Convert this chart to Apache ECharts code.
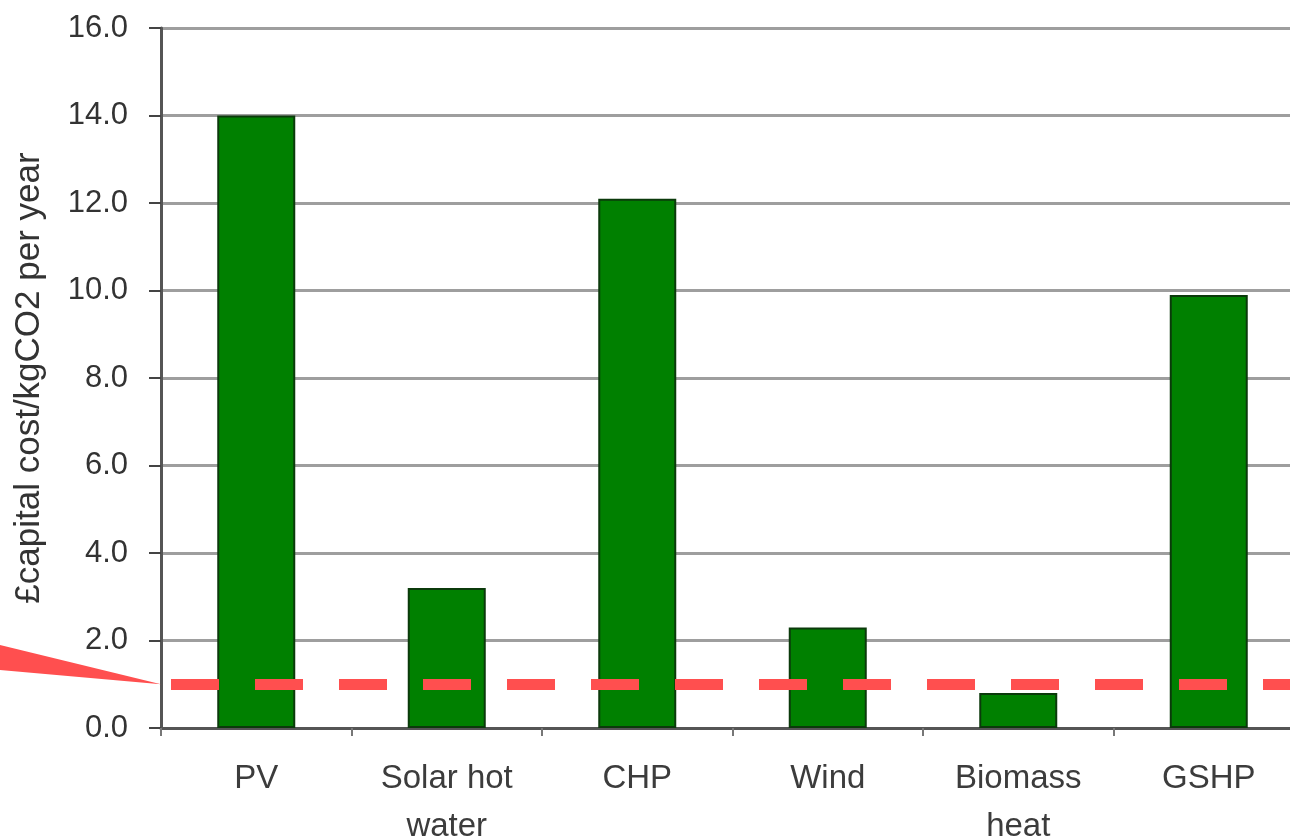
<!DOCTYPE html>
<html>
<head>
<meta charset="utf-8">
<title>Capital cost per kgCO2 saved</title>
<script src="https://cdn.jsdelivr.net/npm/echarts@6/dist/echarts.min.js"></script>
<style>
  html, body { margin: 0; padding: 0; background: #ffffff; }
  #chart { width: 1290px; height: 840px; }
</style>
</head>
<body>
<div id="chart"></div>
<script>
// Technologies along the x axis
const categories = ['PV', 'Solar hot\nwater', 'CHP', 'Wind', 'Biomass\nheat', 'GSHP'];
// £ capital cost per kgCO2 saved per year
const costValues = [14.0, 3.2, 12.1, 2.3, 0.8, 9.9];
// Reference level drawn as a dashed line
const thresholdValue = 1.0;
// Value axis range and step
const yMin = 0;
const yMax = 16;
const yStep = 2;

const chart = echarts.init(document.getElementById('chart'), null, { renderer: 'canvas' });

const font = '"Liberation Sans", Arial, sans-serif';

const option = {
  backgroundColor: '#ffffff',
  animation: false,
  grid: {
    left: 161,
    right: -14,
    top: 28,
    bottom: 112,
    containLabel: false,
    outerBoundsMode: 'none'
  },
  xAxis: {
    type: 'category',
    data: categories,
    boundaryGap: true,
    axisLine: { show: true, lineStyle: { color: '#555555', width: 3 } },
    axisTick: { show: true, alignWithLabel: false, length: 8, lineStyle: { color: '#777777', width: 2 } },
    axisLabel: {
      interval: 0,
      margin: 27,
      color: '#3c3c3c',
      fontFamily: font,
      fontSize: 33,
      lineHeight: 48
    },
    splitLine: { show: false }
  },
  yAxis: {
    type: 'value',
    min: yMin,
    max: yMax,
    interval: yStep,
    name: '£capital cost/kgCO2 per year',
    nameLocation: 'middle',
    nameGap: 114,
    nameRotate: 90,
    nameTextStyle: {
      color: '#333333',
      fontFamily: font,
      fontSize: 35
    },
    axisLine: { show: true, lineStyle: { color: '#555555', width: 3 } },
    axisTick: { show: true, inside: false, length: 12, lineStyle: { color: '#444444', width: 2 } },
    axisLabel: {
      margin: 33,
      color: '#333333',
      fontFamily: font,
      fontSize: 31,
      formatter: v => v.toFixed(1)
    },
    splitLine: { show: true, lineStyle: { color: '#9e9e9e', width: 3 } }
  },
  series: [
    {
      type: 'bar',
      data: costValues,
      barWidth: 78,
      itemStyle: {
        color: '#008000',
        borderColor: '#0b3a0b',
        borderWidth: 2
      },
      markLine: {
        silent: true,
        symbol: ['none', 'none'],
        label: { show: false },
        z: 10,
        lineStyle: {
          color: '#ff4f4f',
          width: 11,
          type: [48, 36],
          dashOffset: 74
        },
        data: [{ yAxis: thresholdValue }]
      }
    }
  ]
};

chart.setOption(option);

// Red callout wedge pointing at the reference level on the value axis
const tip = chart.convertToPixel({ gridIndex: 0 }, [0, thresholdValue]);
const gridLeft = 161;
chart.setOption({
  graphic: [{
    type: 'polygon',
    silent: true,
    z: 20,
    shape: { points: [[0, 645], [0, 670], [gridLeft, tip[1]]] },
    style: { fill: '#ff4f4f' }
  }]
});
</script>
</body>
</html>
